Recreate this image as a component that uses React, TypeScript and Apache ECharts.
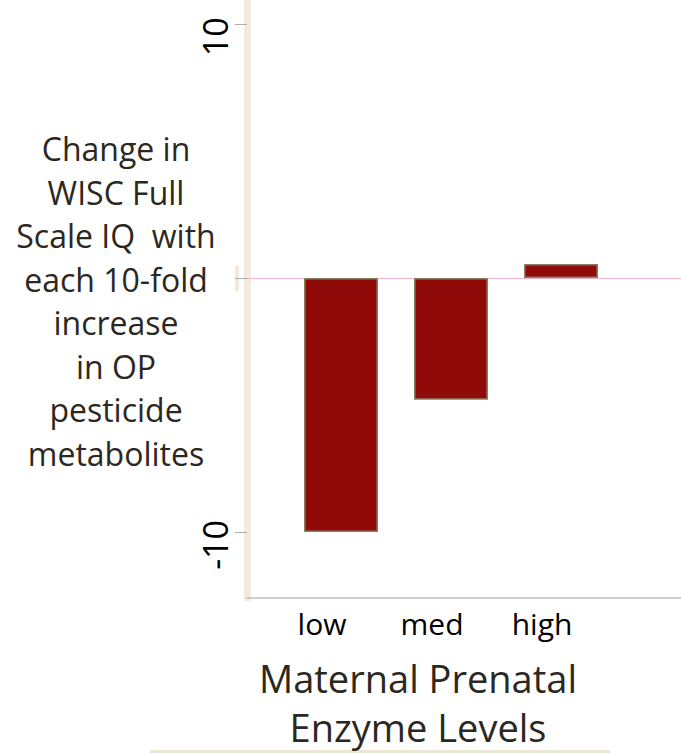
import React, { useEffect, useRef } from "react";
import * as echarts from "echarts";

const categories = ["low", "med", "high"];
const values = [-10, -4.8, 0.55];
const yTicks = [-10, 0, 10];
const yLabels = [-10, 10];
const yTitle = ["Change in", "WISC Full", "Scale IQ  with", "each 10-fold", "increase", "in OP", "pesticide", "metabolites"];
const xTitle = ["Maternal Prenatal", "Enzyme Levels"];

const FONT = "Open Sans";
const TEXT = "#2b2822";

export default function App() {
  const ref = useRef<HTMLDivElement>(null);
  useEffect(() => {
    document.body.style.margin = "0";
    const chart = echarts.init(ref.current!, undefined, { renderer: "svg" });
    const yMin = -12.6;
    const yMax = 10.9;
    chart.setOption({
      animation: false,
      backgroundColor: "#ffffff",
      title: [
        {
          text: yTitle.join("\n"),
          left: 111,
          top: 122,
          textAlign: "center",
          textStyle: { fontFamily: FONT, fontSize: 32, fontWeight: "normal", color: TEXT, lineHeight: 43.5 },
        },
        {
          text: xTitle.join("\n"),
          left: 413,
          top: 648,
          textAlign: "center",
          textStyle: { fontFamily: FONT, fontSize: 38, fontWeight: "normal", color: TEXT, lineHeight: 49 },
        },
      ],
      grid: [
        { left: 286, width: 330, top: 1, bottom: 155 },
        { left: 247, right: 0, top: 1, bottom: 155 },
      ],
      xAxis: [
        {
          type: "category",
          gridIndex: 0,
          data: categories,
          axisLine: { show: false },
          axisTick: { show: false },
          axisLabel: {
            fontFamily: FONT,
            fontSize: 30,
            color: "#000",
            margin: 10,
            padding: [0, 38, 0, 0],
          },
        },
        {
          type: "value",
          gridIndex: 1,
          position: "bottom",
          axisLine: { show: true, onZero: true, lineStyle: { color: "#f4b6c6", width: 1 } },
          axisTick: { show: false },
          axisLabel: { show: false },
          splitLine: { show: false },
        },
        {
          type: "value",
          gridIndex: 1,
          position: "bottom",
          axisLine: { show: true, onZero: false, lineStyle: { color: "#c4c0bc", width: 1.5 } },
          axisTick: { show: false },
          axisLabel: { show: false },
          splitLine: { show: false },
        },
      ],
      yAxis: [
        {
          type: "value",
          gridIndex: 0,
          min: yMin,
          max: yMax,
          show: false,
        },
        {
          type: "value",
          gridIndex: 1,
          min: yMin,
          max: yMax,
          axisLine: { show: true, lineStyle: { color: "#f2eadf", width: 7 } },
          axisTick: {
            show: true,
            length: 12,
            customValues: yTicks,
            lineStyle: { color: "#b0aca8", width: 1 },
          },
          axisLabel: {
            customValues: yLabels,
            rotate: 90,
            fontFamily: FONT,
            fontSize: 34,
            color: "#000",
            margin: 15,
            padding: [0, 26, 0, 0],
          },
          splitLine: { show: false },
        },
      ],
      series: [
        {
          type: "bar",
          xAxisIndex: 0,
          yAxisIndex: 0,
          data: values,
          barWidth: 74,
          itemStyle: { color: "#900a0a", borderColor: "#8a8060", borderWidth: 1.5 },
        },
      ],
      graphic: [
        { type: "rect", left: 150, top: 750, shape: { width: 460, height: 3 }, style: { fill: "#ebe7d2" }, silent: true },
        { type: "rect", left: 235, top: 266, shape: { width: 4, height: 25 }, style: { fill: "#f2eadf" }, silent: true },
      ],
    });
    return () => chart.dispose();
  }, []);
  return <div ref={ref} style={{ width: 681, height: 753 }} />;
}
